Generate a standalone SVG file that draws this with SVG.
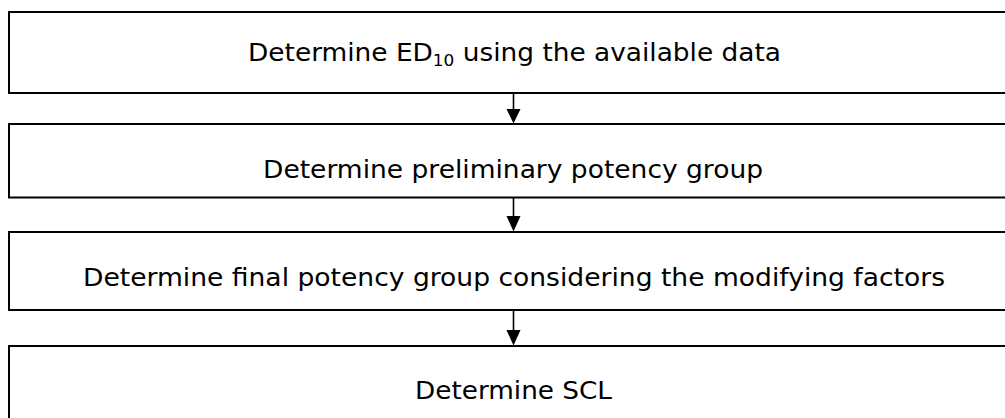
<svg xmlns="http://www.w3.org/2000/svg" width="1005" height="418" viewBox="0 0 1005 418">
<defs>
<style>
.box{fill:#fff;stroke:#000;stroke-width:2}
.lbl{font-family:"DejaVu Sans",Verdana,sans-serif;font-size:25px;fill:#000}
.sub{font-size:16px}
.conn line{stroke:#000;stroke-width:1.6}
.conn polygon{fill:#000}
</style>
</defs>
<rect width="1005" height="418" fill="#fff"/>
<g id="node1">
<rect class="box" x="9" y="12" width="1010" height="81"/>
<text class="lbl" x="248" y="61" textLength="533" lengthAdjust="spacingAndGlyphs">Determine ED<tspan class="sub" dy="5">10</tspan><tspan dy="-5"> using the available data</tspan></text>
</g>
<g id="node2">
<rect class="box" x="9" y="124" width="1010" height="73.5"/>
<text class="lbl" x="263" y="178" textLength="500" lengthAdjust="spacingAndGlyphs">Determine preliminary potency group</text>
</g>
<g id="node3">
<rect class="box" x="9" y="232" width="1010" height="78"/>
<text class="lbl" x="83" y="286" textLength="862" lengthAdjust="spacingAndGlyphs">Determine final potency group considering the modifying factors</text>
</g>
<g id="node4">
<rect class="box" x="9" y="346" width="1010" height="80"/>
<text class="lbl" x="415" y="399" textLength="197" lengthAdjust="spacingAndGlyphs">Determine SCL</text>
</g>
<g id="connectors" class="conn">
<line x1="513.5" y1="93" x2="513.5" y2="110"/>
<polygon points="506.5,109 520.5,109 513.5,123.5"/>
<line x1="513.5" y1="197.5" x2="513.5" y2="217"/>
<polygon points="506.5,216 520.5,216 513.5,231.5"/>
<line x1="513.5" y1="310" x2="513.5" y2="331"/>
<polygon points="506.5,330 520.5,330 513.5,345.5"/>
</g>
</svg>
